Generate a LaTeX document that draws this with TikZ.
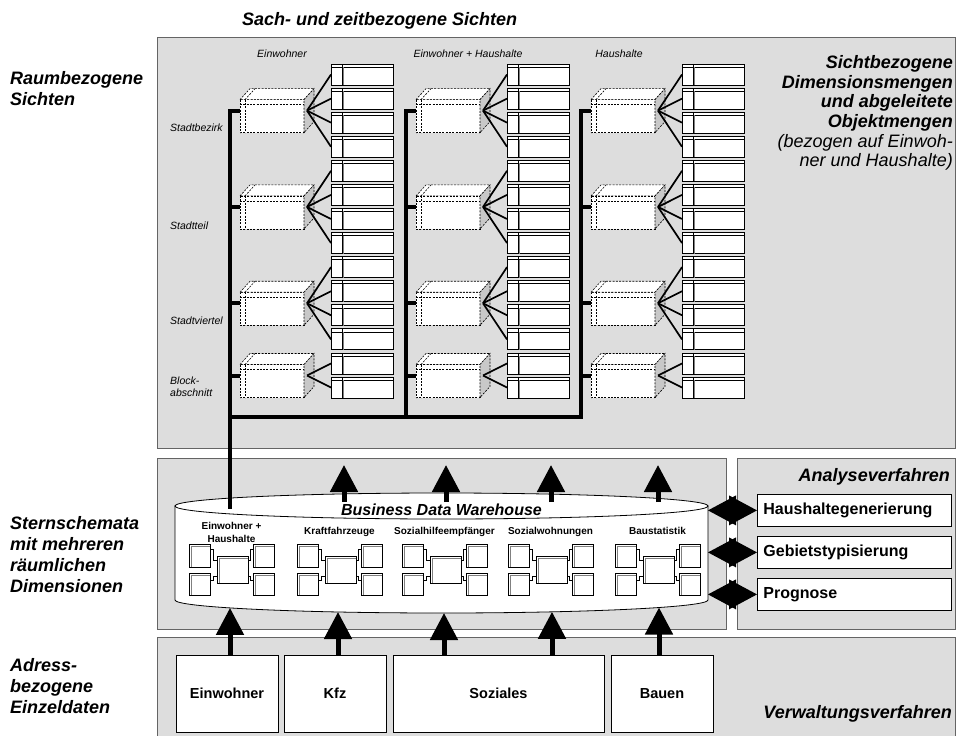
\documentclass[tikz,border=0pt]{standalone}
\usepackage{fontspec}
\setmainfont{Liberation Sans}
\usetikzlibrary{arrows.meta}
\definecolor{panel}{RGB}{221,221,221}
\definecolor{panelline}{RGB}{100,100,100}
\definecolor{sidegray}{RGB}{200,200,200}

\newcommand\cubeAt[2]{%
  \filldraw[fill=white, cubeline] (#1,#2-11) rectangle (#1+64,#2+22);
  \filldraw[fill=white, cubeline] (#1,#2-11) -- (#1+10,#2-22) -- (#1+74,#2-22) -- (#1+64,#2-11) -- cycle;
  \filldraw[fill=sidegray, cubeline] (#1+64,#2-11) -- (#1+74,#2-22) -- (#1+74,#2+11) -- (#1+64,#2+22) -- cycle;
  \draw[cubeline] (#1,#2-6) -- (#1+64,#2-6);
  \draw[cubeline] (#1+5,#2-11) -- (#1+5,#2+22);
  \draw[cubeline] (#1+5,#2-11) -- (#1+15,#2-22);
}
\newcommand\tabbox[2]{%
  \filldraw[fill=white, line width=0.9pt] (#1,#2) rectangle (#1+62,#2+21);
  \draw[line width=0.6pt] (#1,#2+3) -- (#1+62,#2+3);
  \draw[line width=0.9pt] (#1+11,#2) -- (#1+11,#2+21);
  \draw[gray, line width=0.6pt] (#1+12.6,#2+3) -- (#1+12.6,#2+21);
}
% #1 cube x, #2 table x, #3 first index, #4 count, #5 bus x
\newcommand\viewgroup[5]{%
  \pgfmathsetmacro\ga{64+24.08*#3+(24.08*(#4-1)+21)/2}
  \draw[bus] (#5,\ga) -- (#1,\ga);
  \cubeAt{#1}{\ga}
  \pgfmathtruncatemacro\glast{#3+#4-1}
  \foreach \k in {#3,...,\glast}{
    \pgfmathsetmacro\gy{64+24.08*\k}
    \draw[fan] (#1+67,\ga) -- (#2,\gy+10.5);
    \tabbox{#2}{\gy}
  }
}
\newcommand\starbox[4]{%
  \filldraw[fill=white, line width=0.7pt] (#1,#2) rectangle (#3,#4);
  \draw[gray, line width=0.6pt] (#1+2,#4) -- (#1+2,#2+2) -- (#3,#2+2);
}
\newcommand\stargroup[1]{%
  \draw[conn] (#1+21,549) -- (#1+24.5,549) -- (#1+24.5,560) -- (#1+28,560);
  \draw[conn] (#1+21,580) -- (#1+24.5,580) -- (#1+24.5,576) -- (#1+28,576);
  \draw[conn] (#1+64,549) -- (#1+61.5,549) -- (#1+61.5,560) -- (#1+59,560);
  \draw[conn] (#1+64,580) -- (#1+61.5,580) -- (#1+61.5,576) -- (#1+59,576);
  \starbox{#1}{544}{#1+21}{567}
  \starbox{#1}{573}{#1+21}{595}
  \starbox{#1+28}{556}{#1+59}{583}
  \starbox{#1+64}{544}{#1+85}{567}
  \starbox{#1+64}{573}{#1+85}{595}
}
\newcommand\dblarrow[1]{%
  \fill (#1) -- ++(-28,-15) -- ++(0,30) -- cycle;
  \fill (#1) ++(-49,0) -- ++(28,-15) -- ++(0,30) -- cycle;
}

\begin{document}
\begin{tikzpicture}[x=1pt,y=-1pt,
  panelbox/.style={fill=panel, draw=panelline, line width=0.9pt},
  cubeline/.style={draw=black, line width=0.6pt, dash pattern=on 2pt off 1.3pt},
  fan/.style={line width=1.7pt},
  bus/.style={line width=4pt, line cap=rect},
  conn/.style={line width=0.7pt},
  bigarrow/.style={line width=5pt, -{Triangle[width=27pt,length=27pt]}},
  biglbl/.style={inner sep=0pt, font=\fontsize{18}{21}\selectfont\bfseries\itshape, align=left},
  smalllbl/.style={inner sep=0pt, font=\fontsize{10.5}{11.5}\selectfont\itshape},
  starlbl/.style={inner sep=0pt, font=\fontsize{10}{12.5}\selectfont\bfseries, align=center},
  abox/.style={draw, fill=white, line width=0.8pt, minimum height=32pt, text width=182pt, inner xsep=6pt, inner ysep=0pt, align=left, font=\fontsize{16}{19}\selectfont\bfseries, anchor=north west},
  bbox/.style={draw, fill=white, line width=0.8pt, minimum height=77pt, inner sep=0pt, font=\fontsize{14.5}{17}\selectfont\bfseries},
]
\useasboundingbox (0,0) rectangle (956,736);

% panels
\draw[panelbox] (157,37) rectangle (955,448);
\draw[panelbox] (157,458) rectangle (726,629);
\draw[panelbox] (737,458) rectangle (955,629);
\draw[panelbox] (157,637) rectangle (955,745);

% cylinder
\filldraw[fill=white, line width=0.8pt] (175,506) -- (175,600) arc[start angle=180, end angle=0, x radius=266.5, y radius=13] -- (708,506) -- cycle;
\filldraw[fill=white, line width=0.8pt] (441.5,506) ellipse[x radius=266.5, y radius=13];

% buses
\draw[bus] (230,110.62) -- (230,507);
\draw[bus] (406,110.62) -- (406,417);
\draw[bus] (581,110.62) -- (581,417) -- (230,417);

% view groups
\foreach \cx/\tx/\bx in {240/331/230, 416/507/406, 591/682/581}{
  \viewgroup{\cx}{\tx}{0}{4}{\bx}
  \viewgroup{\cx}{\tx}{4}{4}{\bx}
  \viewgroup{\cx}{\tx}{8}{4}{\bx}
  \viewgroup{\cx}{\tx}{12}{2}{\bx}
}

% headers and row labels
\node[smalllbl, anchor=base] (hEinw) at (282,57.8) {Einwohner};
\node[smalllbl, anchor=base] (hEH) at (468,57.8) {Einwohner + Haushalte};
\node[smalllbl, anchor=base] (hHH) at (619,57.8) {Haushalte};
\node[smalllbl, anchor=base west] (rBez) at (170,131.8) {Stadtbezirk};
\node[smalllbl, anchor=base west] (rTeil) at (170,229.8) {Stadtteil};
\node[smalllbl, anchor=base west] (rViert) at (170,324.8) {Stadtviertel};
\node[smalllbl, anchor=north west, align=left] (rBlock) at (170,377) {Block-\\abschnitt};

% star schemas
\foreach \t in {189,297,402,508,615}{ \stargroup{\t} }
\node[starlbl, anchor=north] (sEH) at (231.5,522.4) {Einwohner +\\Haushalte};
\node[starlbl, anchor=base] (sKfz) at (339.5,534.6) {Kraftfahrzeuge};
\node[starlbl, anchor=base] (sSoz) at (444.5,534.6) {Sozialhilfeempfänger};
\node[starlbl, anchor=base] (sWohn) at (550.5,534.6) {Sozialwohnungen};
\node[starlbl, anchor=base] (sBau) at (657.5,534.6) {Baustatistik};
\node[inner sep=0pt, font=\fontsize{16}{19}\selectfont\bfseries\itshape, anchor=base] (bdw) at (441.5,515) {Business Data Warehouse};

% top arrows
\foreach \ax in {344,446,551,658}{
  \draw[bigarrow] (\ax,502) -- (\ax,465);
}

% bottom boxes
\node[bbox, minimum width=102pt] (einw) at (227,693.5) {Einwohner};
\node[bbox, minimum width=102pt] (kfz) at (335,693.5) {Kfz};
\node[bbox, minimum width=211pt] (soz) at (498.5,693.5) {Soziales};
\node[bbox, minimum width=102pt] (bau) at (662,693.5) {Bauen};
\coordinate (t1) at (230,607.9);
\coordinate (t2) at (338,612.0);
\coordinate (t3) at (444,613.0);
\coordinate (t4) at (552,611.8);
\coordinate (t5) at (659,607.5);
\draw[bigarrow] (einw.north -| t1) -- (t1);
\draw[bigarrow] (kfz.north -| t2) -- (t2);
\draw[bigarrow] (soz.north -| t3) -- (t3);
\draw[bigarrow] (soz.north -| t4) -- (t4);
\draw[bigarrow] (bau.north -| t5) -- (t5);

% analysis boxes
\node[abox] (hhg) at (757,494) {Haushaltegenerierung};
\node[abox] (geb) at (757,536) {Gebietstypisierung};
\node[abox] (prog) at (757,578) {Prognose};
\dblarrow{hhg.west}
\dblarrow{geb.west}
\dblarrow{prog.west}

% big labels
\node[biglbl, anchor=base west] (title) at (242,25) {Sach- und zeitbezogene Sichten};
\node[biglbl, anchor=north west] (raum) at (10,71.5) {Raumbezogene\\Sichten};
\node[biglbl, anchor=north west] (stern) at (10,516.5) {Sternschemata\\mit mehreren\\räumlichen\\Dimensionen};
\node[biglbl, anchor=north west] (adr) at (10,658.5) {Adress-\\bezogene\\Einzeldaten};
\node[biglbl, anchor=north east, align=right, font=\fontsize{18}{19.6}\selectfont\itshape] (sicht) at (953,55.5)
  {\textbf{Sichtbezogene}\\\textbf{Dimensionsmengen}\\\textbf{und abgeleitete}\\\textbf{Objektmengen}\\(bezogen auf Einwoh-\\ner und Haushalte)};
\node[biglbl, anchor=base east] (analyse) at (950,481.5) {Analyseverfahren};
\node[biglbl, anchor=base east] (verw) at (952,718.5) {Verwaltungsverfahren};
\end{tikzpicture}
\end{document}
